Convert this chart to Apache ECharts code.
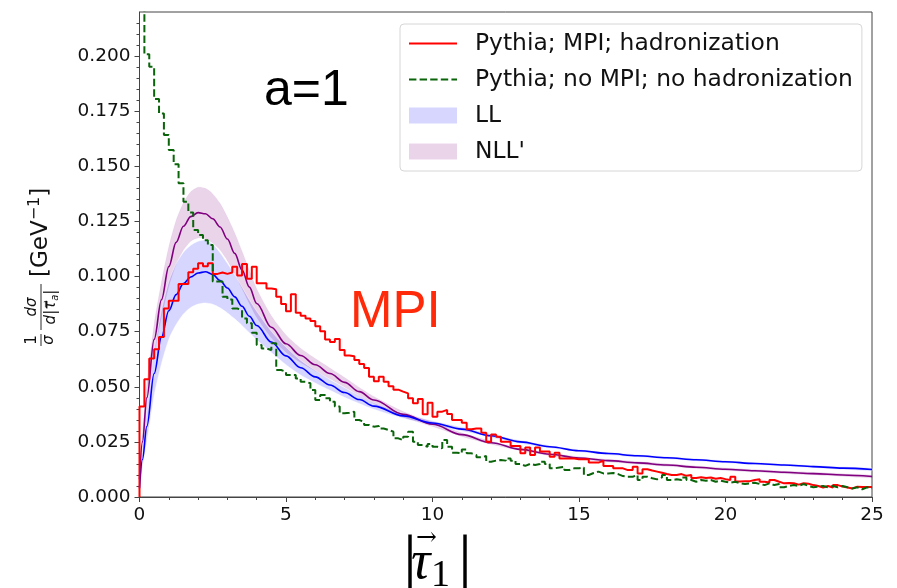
<!DOCTYPE html>
<html>
<head>
<meta charset="utf-8">
<script src="https://cdn.jsdelivr.net/npm/echarts@6/dist/echarts.min.js"></script>
<style>
  html, body { margin: 0; padding: 0; background: #fff; }
  #chart { width: 897px; height: 588px; }
</style>
</head>
<body>
<div id="chart"></div>
<script>
// histogram: 150 bins over 0..25
const histMax = 25
const histBins = 150

const pythiaMpi = [
  0.0410, 0.0534, 0.0628, 0.0670, 0.0726, 0.0855, 0.0890, 0.0890, 0.0966, 0.0966,
  0.1020, 0.1035, 0.1060, 0.1047, 0.1060, 0.1012, 0.1018, 0.1012, 0.1018, 0.1045,
  0.1005, 0.1057, 0.0990, 0.1045, 0.0970, 0.0970, 0.0946, 0.0942, 0.0908, 0.0875,
  0.0843, 0.0920, 0.0836, 0.0822, 0.0810, 0.0798, 0.0775, 0.0752, 0.0715, 0.0703,
  0.0717, 0.0667, 0.0642, 0.0638, 0.0621, 0.0603, 0.0585, 0.0545, 0.0525, 0.0546,
  0.0523, 0.0502, 0.0487, 0.0478, 0.0470, 0.0448, 0.0425, 0.0445, 0.0375, 0.0428,
  0.0364, 0.0387, 0.0395, 0.0376, 0.0349, 0.0349, 0.0337, 0.0307, 0.0311, 0.0311,
  0.0292, 0.0251, 0.0284, 0.0273, 0.0251, 0.0251, 0.0231, 0.0231, 0.0198, 0.0225,
  0.0190, 0.0225, 0.0206, 0.0206, 0.0183, 0.0201, 0.0175, 0.0175, 0.0175, 0.0171,
  0.0171, 0.0171, 0.0156, 0.0156, 0.0165, 0.0141, 0.0141, 0.0130, 0.0130, 0.0122,
  0.0122, 0.0137, 0.0107, 0.0126, 0.0120, 0.0115, 0.0110, 0.0104, 0.0100, 0.0100,
  0.0104, 0.0096, 0.0100, 0.0086, 0.0090, 0.0086, 0.0088, 0.0083, 0.0086, 0.0081,
  0.0077, 0.0092, 0.0070, 0.0072, 0.0072, 0.0077, 0.0080, 0.0069, 0.0066, 0.0077,
  0.0069, 0.0062, 0.0064, 0.0062, 0.0056, 0.0062, 0.0060, 0.0054, 0.0050, 0.0043,
  0.0050, 0.0043, 0.0054, 0.0047, 0.0043, 0.0039, 0.0047, 0.0045, 0.0045, 0.0045
]

const pythiaNoMpi = [
  0.2600, 0.2008, 0.1952, 0.1805, 0.1740, 0.1642, 0.1574, 0.1509, 0.1423, 0.1339,
  0.1291, 0.1211, 0.1188, 0.1165, 0.1143, 0.0977, 0.0977, 0.0908, 0.0896, 0.0855,
  0.0848, 0.0810, 0.0788, 0.0745, 0.0690, 0.0674, 0.0667, 0.0697, 0.0576, 0.0568,
  0.0553, 0.0553, 0.0538, 0.0523, 0.0516, 0.0485, 0.0440, 0.0463, 0.0448, 0.0432,
  0.0410, 0.0380, 0.0382, 0.0387, 0.0349, 0.0341, 0.0327, 0.0319, 0.0322, 0.0311,
  0.0304, 0.0296, 0.0266, 0.0258, 0.0273, 0.0296, 0.0251, 0.0236, 0.0228, 0.0240,
  0.0228, 0.0221, 0.0258, 0.0228, 0.0201, 0.0198, 0.0216, 0.0198, 0.0190, 0.0180,
  0.0186, 0.0160, 0.0165, 0.0168, 0.0165, 0.0175, 0.0165, 0.0150, 0.0141, 0.0150,
  0.0145, 0.0150, 0.0160, 0.0150, 0.0130, 0.0134, 0.0137, 0.0122, 0.0130, 0.0130,
  0.0134, 0.0100, 0.0109, 0.0115, 0.0107, 0.0107, 0.0109, 0.0104, 0.0095, 0.0092,
  0.0092, 0.0100, 0.0077, 0.0092, 0.0085, 0.0080, 0.0089, 0.0100, 0.0077, 0.0080,
  0.0077, 0.0089, 0.0077, 0.0069, 0.0077, 0.0074, 0.0077, 0.0069, 0.0074, 0.0069,
  0.0065, 0.0069, 0.0062, 0.0059, 0.0062, 0.0065, 0.0059, 0.0054, 0.0062, 0.0054,
  0.0059, 0.0044, 0.0050, 0.0054, 0.0050, 0.0059, 0.0050, 0.0044, 0.0047, 0.0050,
  0.0044, 0.0050, 0.0044, 0.0050, 0.0044, 0.0039, 0.0044, 0.0035, 0.0044, 0.0040
]

// resummed predictions, sampled on tau
const tau = [0, 0.1, 0.25, 0.5, 0.75, 1, 1.25, 1.5, 1.75, 2, 2.25, 2.5, 2.75, 3, 3.25, 3.5, 3.75, 4,
  4.5, 5, 5.5, 6, 6.5, 7, 7.5, 8, 9, 10, 11, 12, 13, 14, 15, 16, 17, 18, 19, 20, 21, 22, 23, 24, 25]

const llCentral = [0.0040, 0.0170, 0.0320, 0.0560, 0.0725, 0.0845, 0.0918, 0.0968, 0.0998, 0.1016, 0.1022, 0.1010, 0.0982, 0.0948, 0.0908, 0.0865, 0.0820, 0.0778,
  0.0703, 0.0640, 0.0586, 0.0545, 0.0508, 0.0474, 0.0442, 0.0412, 0.0368, 0.0336, 0.0308, 0.0278, 0.0250, 0.0228, 0.0210, 0.0197, 0.0187, 0.0178, 0.0169, 0.0160, 0.0152, 0.0145, 0.0138, 0.0131, 0.0125]
const llLow = [0.0020, 0.0130, 0.0250, 0.0460, 0.0605, 0.0715, 0.0782, 0.0830, 0.0860, 0.0875, 0.0880, 0.0874, 0.0858, 0.0835, 0.0808, 0.0778, 0.0745, 0.0713,
  0.0655, 0.0600, 0.0553, 0.0517, 0.0484, 0.0452, 0.0424, 0.0398, 0.0357, 0.0326, 0.0299, 0.0270, 0.0243, 0.0222, 0.0204, 0.0191, 0.0181, 0.0172, 0.0163, 0.0154, 0.0146, 0.0139, 0.0132, 0.0125, 0.0119]
const llHigh = [0.0060, 0.0210, 0.0390, 0.0660, 0.0848, 0.0978, 0.1058, 0.1110, 0.1142, 0.1160, 0.1165, 0.1148, 0.1108, 0.1060, 0.1008, 0.0952, 0.0895, 0.0843,
  0.0752, 0.0680, 0.0620, 0.0574, 0.0533, 0.0496, 0.0460, 0.0427, 0.0380, 0.0346, 0.0317, 0.0286, 0.0257, 0.0234, 0.0216, 0.0203, 0.0193, 0.0184, 0.0175, 0.0166, 0.0158, 0.0151, 0.0144, 0.0137, 0.0131]

const nllCentral = [0.0080, 0.0250, 0.0450, 0.0715, 0.0895, 0.1045, 0.1155, 0.1228, 0.1272, 0.1290, 0.1285, 0.1262, 0.1225, 0.1170, 0.1105, 0.1030, 0.0952, 0.0878,
  0.0770, 0.0695, 0.0642, 0.0600, 0.0560, 0.0520, 0.0478, 0.0440, 0.0375, 0.0330, 0.0283, 0.0246, 0.0216, 0.0194, 0.0177, 0.0165, 0.0155, 0.0145, 0.0135, 0.0126, 0.0119, 0.0112, 0.0106, 0.0100, 0.0093]
const nllLow = [0.0060, 0.0210, 0.0390, 0.0645, 0.0815, 0.0955, 0.1055, 0.1120, 0.1160, 0.1175, 0.1172, 0.1152, 0.1120, 0.1072, 0.1012, 0.0945, 0.0878, 0.0815,
  0.0722, 0.0657, 0.0610, 0.0572, 0.0535, 0.0498, 0.0459, 0.0424, 0.0362, 0.0320, 0.0275, 0.0239, 0.0210, 0.0188, 0.0171, 0.0159, 0.0149, 0.0139, 0.0129, 0.0120, 0.0113, 0.0106, 0.0100, 0.0094, 0.0087]
const nllHigh = [0.0100, 0.0290, 0.0510, 0.0785, 0.0975, 0.1135, 0.1255, 0.1335, 0.1385, 0.1405, 0.1400, 0.1375, 0.1332, 0.1270, 0.1198, 0.1115, 0.1028, 0.0945,
  0.0822, 0.0735, 0.0675, 0.0628, 0.0585, 0.0542, 0.0497, 0.0456, 0.0388, 0.0340, 0.0291, 0.0253, 0.0222, 0.0200, 0.0183, 0.0171, 0.0161, 0.0151, 0.0141, 0.0132, 0.0125, 0.0118, 0.0112, 0.0106, 0.0099]

const yTicks = [0, 0.025, 0.05, 0.075, 0.1, 0.125, 0.15, 0.175, 0.2]

const NAME_MPI = 'Pythia; MPI; hadronization'
const NAME_NOMPI = 'Pythia; no MPI; no hadronization'
const LL_FILL = 'rgba(0, 0, 255, 0.16)'
const NLL_FILL = 'rgba(128, 0, 128, 0.17)'
const AXIS_COLOR = '#444'
const FONT = 'DejaVu Sans'

// step points: [edge, value] pairs, last bin closed at histMax
function stepPoints(values, fromZero) {
  const w = histMax / histBins
  const pts = fromZero ? [[0, 0]] : []
  values.forEach((v, i) => pts.push([i * w, v]))
  pts.push([histMax, values[values.length - 1]])
  return pts
}

function pairs(ys) {
  return tau.map((t, i) => [t, ys[i]])
}

function curve(name, ys, color) {
  return {
    name, type: 'line', data: pairs(ys), showSymbol: false, symbol: 'none',
    smooth: 0.35, smoothMonotone: 'x', silent: true, z: 4,
    lineStyle: { color, width: 1.6 }
  }
}

// uncertainty band as one polygon: upper edge forward, lower edge back
function band(name, lo, hi, fill, edge) {
  return {
    name, type: 'custom', coordinateSystem: 'cartesian2d', silent: true, z: 2,
    data: [[tau[0], lo[0]]],
    itemStyle: { color: fill },
    renderItem: (params, api) => {
      const pts = tau.map((t, i) => api.coord([t, hi[i]]))
      for (let i = tau.length - 1; i >= 0; i--) pts.push(api.coord([tau[i], lo[i]]))
      return {
        type: 'polygon',
        shape: { points: pts, smooth: 0.25 },
        style: { fill, stroke: edge, lineWidth: 0.8 }
      }
    }
  }
}

const chart = echarts.init(document.getElementById('chart'), null, { renderer: 'canvas' })

const option = {
  animation: false,
  backgroundColor: '#fff',
  grid: {
    left: 139.5, right: 25, top: 12, bottom: 91,
    show: true, borderColor: AXIS_COLOR, borderWidth: 1, backgroundColor: 'transparent'
  },
  xAxis: {
    type: 'value', min: 0, max: 25, interval: 5,
    axisLine: { lineStyle: { color: AXIS_COLOR, width: 1 } },
    axisTick: { length: 5, lineStyle: { color: AXIS_COLOR } },
    minorTick: { show: true, splitNumber: 5, length: 3, lineStyle: { color: AXIS_COLOR } },
    splitLine: { show: false },
    axisLabel: { color: '#111', fontFamily: FONT, fontSize: 18.5, margin: 9 }
  },
  yAxis: {
    type: 'value', min: 0, max: 0.22, interval: 0.025,
    axisLine: { show: true, lineStyle: { color: AXIS_COLOR, width: 1 } },
    axisTick: { show: true, length: 5, lineStyle: { color: AXIS_COLOR }, customValues: yTicks },
    minorTick: { show: true, splitNumber: 5, length: 3, lineStyle: { color: AXIS_COLOR } },
    splitLine: { show: false },
    axisLabel: {
      color: '#111', fontFamily: FONT, fontSize: 18.5, margin: 9,
      customValues: yTicks,
      formatter: (v) => v.toFixed(3)
    }
  },
  legend: {
    orient: 'vertical', left: 400, top: 24,
    padding: [8, 9, 8, 8],
    itemWidth: 48, itemHeight: 16, itemGap: 13,
    backgroundColor: 'rgba(255,255,255,0.85)',
    borderColor: '#d6d6d6', borderWidth: 1, borderRadius: 4,
    selectedMode: false,
    textStyle: { fontFamily: FONT, fontSize: 23.4, lineHeight: 22, color: '#111', padding: [0, 0, 0, 13] },
    data: [
      { name: NAME_MPI, itemStyle: { opacity: 0 } },
      { name: NAME_NOMPI, itemStyle: { opacity: 0 } },
      { name: 'LL', icon: 'rect', itemStyle: { color: LL_FILL } },
      { name: "NLL'", icon: 'rect', itemStyle: { color: NLL_FILL } }
    ]
  },
  series: [
    band("NLL'", nllLow, nllHigh, NLL_FILL, 'rgba(128,0,128,0.05)'),
    band('LL', llLow, llHigh, LL_FILL, 'rgba(255,255,255,0.55)'),
    curve('NLL central', nllCentral, '#800080'),
    curve('LL central', llCentral, '#0000ff'),
    {
      name: NAME_MPI, type: 'line', step: 'end', data: stepPoints(pythiaMpi, true),
      symbol: 'none', z: 5, silent: true,
      itemStyle: { color: '#ff0000' },
      lineStyle: { color: '#ff0000', width: 2 }
    },
    {
      name: NAME_NOMPI, type: 'line', step: 'end', data: stepPoints(pythiaNoMpi, false),
      symbol: 'none', z: 5, silent: true,
      itemStyle: { color: '#0a640a' },
      lineStyle: { color: '#0a640a', width: 2, type: [7.4, 3.2] }
    }
  ],
  graphic: [
    {
      type: 'text', left: 264, top: 66, silent: true,
      style: { text: 'a=1', font: '50px "Liberation Sans"', fill: '#000' }
    },
    {
      type: 'text', left: 350, top: 287, silent: true,
      style: { text: 'MPI', font: '51px "Liberation Sans"', fill: '#ff2a0a' }
    },
    // y-axis label, rotated to read bottom to top
    {
      type: 'group', x: 41, y: 264, rotation: Math.PI / 2, silent: true,
      children: [
        { type: 'text', x: -76, y: -1, style: { text: '1', font: '15px "DejaVu Sans"', fill: '#111', align: 'center', verticalAlign: 'bottom' } },
        { type: 'line', shape: { x1: -82, y1: 0, x2: -70, y2: 0 }, style: { stroke: '#111', lineWidth: 0.9 } },
        { type: 'text', x: -76, y: 1, style: { text: 'σ', font: 'italic 15px "DejaVu Sans"', fill: '#111', align: 'center', verticalAlign: 'top' } },
        { type: 'text', x: -43, y: -1, style: { text: 'dσ', font: 'italic 15px "DejaVu Sans"', fill: '#111', align: 'center', verticalAlign: 'bottom' } },
        { type: 'line', shape: { x1: -66, y1: 0, x2: -20, y2: 0 }, style: { stroke: '#111', lineWidth: 0.9 } },
        {
          type: 'text', x: -43, y: 1,
          style: {
            text: '{i|d}{n||}{i|τ⃗}{s|a}{n||}', align: 'center', verticalAlign: 'top', fill: '#111',
            rich: {
              i: { font: 'italic 15px "DejaVu Sans"' },
              n: { font: '15px "DejaVu Sans"' },
              s: { font: 'italic 10px "DejaVu Sans"', padding: [8, 0, 0, 0] }
            }
          }
        },
        {
          type: 'text', x: -13, y: 0,
          style: {
            text: '{n|[GeV}{s|−1}{n|]}', align: 'left', verticalAlign: 'middle', fill: '#111',
            rich: {
              n: { font: '23px "DejaVu Sans"' },
              s: { font: '16px "DejaVu Sans"', padding: [0, 0, 12, 0] }
            }
          }
        }
      ]
    },
    // x-axis label |tau_1|
    {
      type: 'group', x: 434, y: 0, silent: true,
      children: [
        { type: 'text', x: -31, y: 530, style: { text: '|', font: '70px "Liberation Serif"', fill: '#000', align: 'left', verticalAlign: 'top' } },
        { type: 'text', x: -23, y: 537, style: { text: 'τ', font: 'italic 54px "Liberation Serif"', fill: '#000', align: 'left', verticalAlign: 'top' } },
        { type: 'text', x: -18, y: 526, style: { text: '→', font: '25px "DejaVu Serif"', fill: '#000', align: 'left', verticalAlign: 'top' } },
        { type: 'text', x: -3, y: 557, style: { text: '1', font: '38px "Liberation Serif"', fill: '#000', align: 'left', verticalAlign: 'top' } },
        { type: 'text', x: 24, y: 530, style: { text: '|', font: '70px "Liberation Serif"', fill: '#000', align: 'left', verticalAlign: 'top' } }
      ]
    }
  ]
}

chart.setOption(option)
</script>
</body>
</html>
